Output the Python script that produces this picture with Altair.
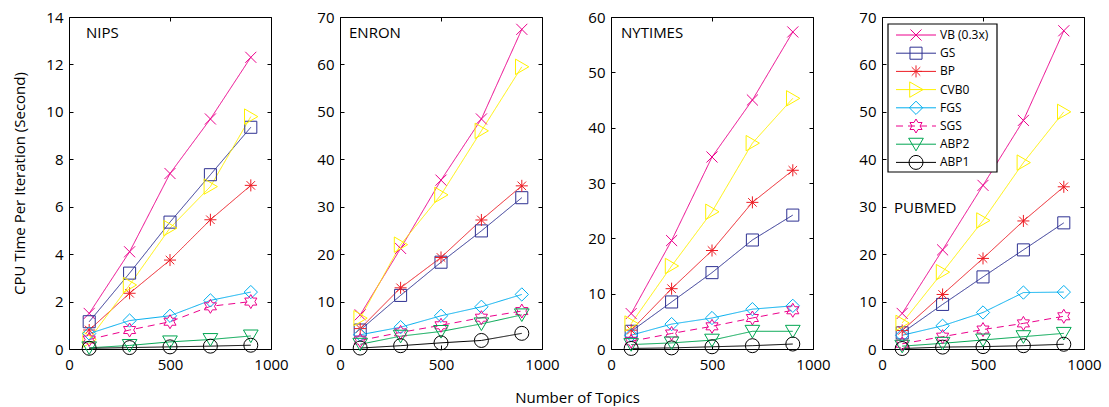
import altair as alt
import pandas as pd
import numpy as np

# ---------------- data ----------------
topics = [100, 300, 500, 700, 900]
series = ["VB (0.3x)", "GS", "BP", "CVB0", "FGS", "SGS", "ABP2", "ABP1"]
colors = ["#EC008C", "#2E3192", "#ED1C24", "#FFF200", "#00AEEF", "#EC008C", "#00A651", "#000000"]

nips = {
    "VB (0.3x)": [1.5, 4.1, 7.4, 9.7, 12.3],
    "GS": [1.15, 3.2, 5.35, 7.35, 9.35],
    "BP": [0.8, 2.35, 3.75, 5.45, 6.9],
    "CVB0": [0.4, 2.7, 5.1, 6.85, 9.8],
    "FGS": [0.65, 1.2, 1.4, 2.05, 2.4],
    "SGS": [0.4, 0.8, 1.15, 1.8, 2.0],
    "ABP2": [0.05, 0.15, 0.3, 0.4, 0.55],
    "ABP1": [0.03, 0.06, 0.09, 0.12, 0.16],
}
enron = {
    "VB (0.3x)": [7.2, 21.2, 35.6, 48.5, 67.4],
    "GS": [4.0, 11.3, 18.3, 24.9, 31.9],
    "BP": [4.3, 12.9, 19.3, 27.2, 34.4],
    "CVB0": [6.5, 22.0, 32.5, 46.0, 59.5],
    "FGS": [3.0, 4.6, 7.0, 8.9, 11.5],
    "SGS": [1.8, 3.5, 5.0, 6.6, 8.0],
    "ABP2": [1.0, 2.7, 3.7, 5.3, 7.2],
    "ABP1": [0.2, 0.7, 1.3, 1.8, 3.3],
}
nytimes = {
    "VB (0.3x)": [6.4, 19.6, 34.7, 45.0, 57.3],
    "GS": [3.2, 8.5, 13.8, 19.7, 24.2],
    "BP": [3.4, 10.9, 17.8, 26.5, 32.3],
    "CVB0": [4.6, 15.0, 24.8, 37.2, 45.3],
    "FGS": [2.5, 4.5, 5.6, 7.2, 7.8],
    "SGS": [1.4, 2.8, 4.1, 5.6, 7.0],
    "ABP2": [0.8, 1.1, 1.6, 3.2, 3.2],
    "ABP1": [0.1, 0.2, 0.4, 0.6, 0.9],
}
pubmed = {
    "VB (0.3x)": [7.5, 20.9, 34.5, 48.2, 67.1],
    "GS": [3.4, 9.4, 15.2, 20.9, 26.6],
    "BP": [3.9, 11.5, 19.1, 27.0, 34.2],
    "CVB0": [5.5, 16.2, 27.1, 39.3, 50.0],
    "FGS": [2.9, 4.9, 7.7, 11.9, 12.0],
    "SGS": [1.1, 2.6, 4.1, 5.4, 6.9],
    "ABP2": [0.6, 1.2, 1.9, 2.6, 3.3],
    "ABP1": [0.1, 0.4, 0.5, 0.7, 1.0],
}
x_ticks = [0, 500, 1000]
y_max = [14, 70, 60, 70]
y_step = [2, 10, 10, 10]
panel_names = ["NIPS", "ENRON", "NYTIMES", "PUBMED"]

# ---------------- styles ----------------
FONT = "Open Sans"
W, H = 202, 332
TICK = 4


def hexagram():
    pts = []
    for k in range(12):
        ang = np.deg2rad(-90 + 30 * k)
        r = 1.0 if k % 2 == 0 else 0.577
        pts.append((r * np.cos(ang), r * np.sin(ang)))
    return "M" + "L".join(f"{a:.3f},{b:.3f}" for a, b in pts) + "Z"


shapes = [
    "M-0.79,-0.79L0.79,0.79M-0.79,0.79L0.79,-0.79",            # x
    "M-0.86,-0.86H0.86V0.86H-0.86Z",                            # square
    "M-0.86,0H0.86M0,-0.86V0.86M-0.61,-0.61L0.61,0.61M-0.61,0.61L0.61,-0.61",  # asterisk
    "M-0.9,-1.1L1,0L-0.9,1.1Z",                                 # triangle right
    "M0,-0.95L0.95,0L0,0.95L-0.95,0Z",                          # diamond
    hexagram(),                                                 # hexagram
    "M-1.05,-0.85L1.05,-0.85L0,0.95Z",                          # triangle down
    "circle",
]
dashes = [[1, 0]] * 5 + [[7, 5]] + [[1, 0]] * 2
MSIZE = 196

color_enc = alt.Color("series:N", scale=alt.Scale(domain=series, range=colors), legend=None)
dash_enc = alt.StrokeDash("series:N", scale=alt.Scale(domain=series, range=dashes), legend=None)
shape_enc = alt.Shape("series:N", scale=alt.Scale(domain=series, range=shapes), legend=None)


def long_df(d):
    rows = []
    for s in series:
        for t, v in zip(topics, d[s]):
            rows.append({"series": s, "topics": t, "value": v})
    return pd.DataFrame(rows)


def panel(idx, d, label_px, legend=False):
    ymax, ystep = y_max[idx], y_step[idx]
    df = long_df(d)
    xs = alt.Scale(domain=[0, 1000], nice=False)
    ys = alt.Scale(domain=[0, ymax], nice=False)
    yvals = list(range(0, ymax + 1, ystep))

    common = dict(tickSize=TICK, offset=-TICK, domain=False, grid=False,
                  labelFlush=False, labelOverlap=False, tickColor="black",
                  labelFont=FONT, labelFontSize=15, labelColor="black",
                  titleFont=FONT, titleFontSize=15, titleColor="black",
                  titleFontWeight="normal")
    x_title = None
    x_extra = {}
    if idx == 1:
        x_title = "Number of Topics"
        x_extra = dict(titleX=237, titleY=45, titleAnchor="middle", titleAlign="center")
    y_title = "CPU Time Per Iteration (Second)" if idx == 0 else None

    xaxis = alt.Axis(values=x_ticks, format="d", labelPadding=8, title=x_title, **x_extra, **common)
    yaxis = alt.Axis(values=yvals, format="d", labelPadding=6, title=y_title, titlePadding=18, **common)
    xaxis_top = alt.Axis(orient="top", values=x_ticks, labels=False, title=None, **common)
    yaxis_right = alt.Axis(orient="right", values=yvals, labels=False, title=None, **common)

    base = alt.Chart(df)
    lines = base.mark_line(strokeWidth=1).encode(
        x=alt.X("topics:Q", scale=xs, axis=xaxis),
        y=alt.Y("value:Q", scale=ys, axis=yaxis),
        color=color_enc,
        strokeDash=dash_enc,
        detail="series:N",
    )
    points = base.mark_point(filled=False, strokeWidth=1, size=MSIZE, opacity=1).encode(
        x=alt.X("topics:Q", scale=xs, axis=xaxis_top),
        y=alt.Y("value:Q", scale=ys, axis=yaxis_right),
        color=color_enc,
        shape=shape_enc,
    )

    def to_x(px):
        return px / W * 1000

    def to_y(py):
        return (H - py) * ymax / H

    lab_df = pd.DataFrame({"name": [panel_names[idx]],
                           "lx": [to_x(label_px[0])], "ly": [to_y(label_px[1])]})
    label = alt.Chart(lab_df).mark_text(align="left", baseline="middle", font=FONT,
                                        fontSize=15, color="black").encode(
        x=alt.X("lx:Q", scale=xs, axis=None),
        y=alt.Y("ly:Q", scale=ys, axis=None),
        text="name:N",
    )
    layers = [lines, points, label]

    if legend:
        row_y = [18 + 18.2 * i for i in range(len(series))]
        leg = pd.DataFrame({
            "series": series,
            "ly": [to_y(v) for v in row_y],
            "x0": to_x(14), "x1": to_x(54), "xm": to_x(34), "xt": to_x(58),
        })
        box = pd.DataFrame({"bx0": [to_x(6)], "bx1": [to_x(115)],
                            "by0": [to_y(7)], "by1": [to_y(155)]})
        lbox = alt.Chart(box).mark_rect(fill="white", stroke="black", strokeWidth=1.2).encode(
            x=alt.X("bx0:Q", scale=xs, axis=None), x2="bx1:Q",
            y=alt.Y("by0:Q", scale=ys, axis=None), y2="by1:Q",
        )
        lb = alt.Chart(leg)
        lrule = lb.mark_rule(strokeWidth=1).encode(
            x=alt.X("x0:Q", scale=xs, axis=None), x2="x1:Q",
            y=alt.Y("ly:Q", scale=ys, axis=None),
            color=color_enc, strokeDash=dash_enc,
        )
        lpt = lb.mark_point(filled=False, strokeWidth=1, size=MSIZE, opacity=1).encode(
            x=alt.X("xm:Q", scale=xs, axis=None),
            y=alt.Y("ly:Q", scale=ys, axis=None),
            color=color_enc, shape=shape_enc,
        )
        ltxt = lb.mark_text(align="left", baseline="middle", font=FONT, fontSize=12,
                            color="black").encode(
            x=alt.X("xt:Q", scale=xs, axis=None),
            y=alt.Y("ly:Q", scale=ys, axis=None),
            text="series:N",
        )
        layers += [lbox, lrule, lpt, ltxt]

    return alt.layer(*layers).resolve_axis(x="independent", y="independent").properties(
        width=W, height=H)


p1 = panel(0, nips, (17, 16))
p2 = panel(1, enron, (9, 16))
p3 = panel(2, nytimes, (10, 16))
p4 = panel(3, pubmed, (12, 191), legend=True)

chart = alt.hconcat(p1, p2, p3, p4, spacing=69, bounds="flush").properties(
    padding={"left": 12, "top": 9, "right": 5, "bottom": 0},
    background="white",
).configure_view(stroke="black", strokeWidth=1)

chart.save("out.html", embed_options={"renderer": "svg", "actions": False})
